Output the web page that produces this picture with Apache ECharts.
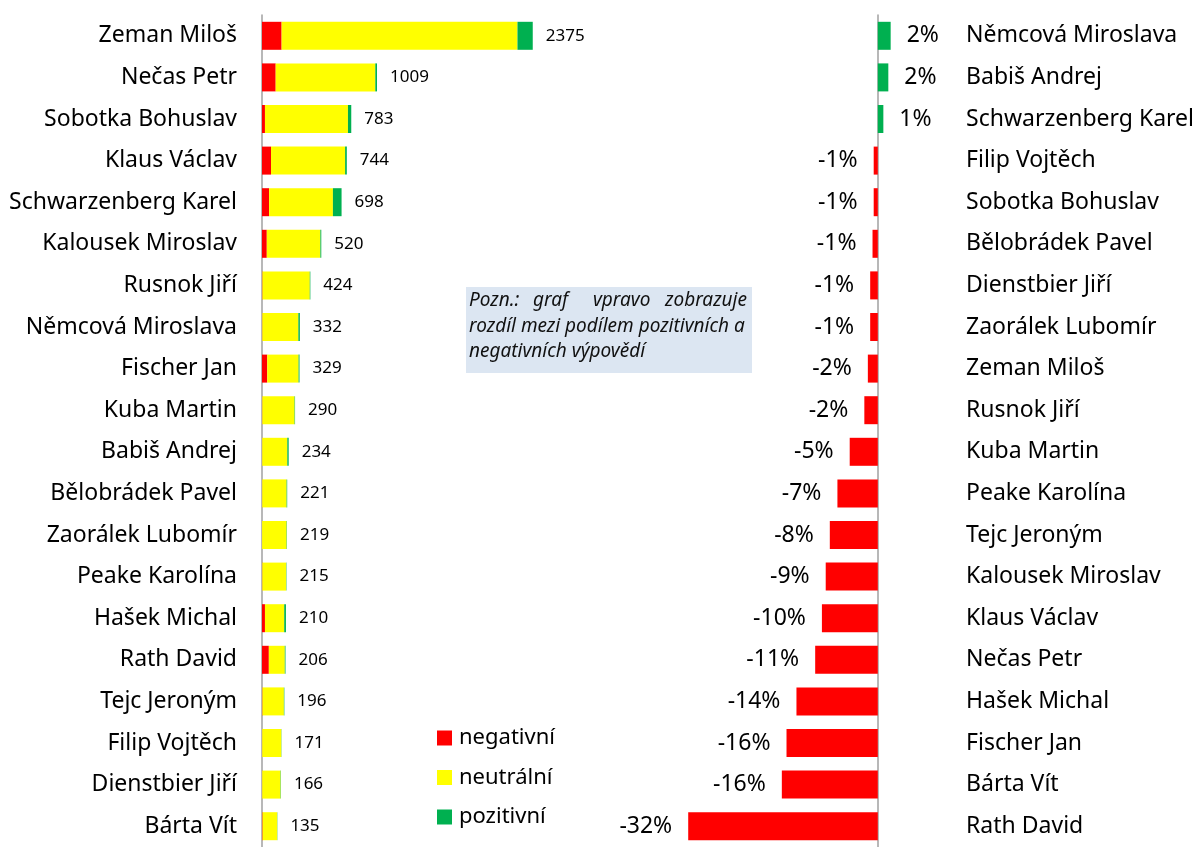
<!DOCTYPE html>
<html>
<head>
<meta charset="utf-8">
<script src="https://cdn.jsdelivr.net/npm/echarts@6/dist/echarts.min.js"></script>
<style>
  html, body { margin: 0; padding: 0; background: #fff; }
  #main { width: 1197px; height: 847px; }
</style>
</head>
<body>
<div id="main"></div>
<script>
// levý graf - počet výpovědí
var names = ["Zeman Miloš", "Nečas Petr", "Sobotka Bohuslav", "Klaus Václav", "Schwarzenberg Karel",
  "Kalousek Miroslav", "Rusnok Jiří", "Němcová Miroslava", "Fischer Jan", "Kuba Martin",
  "Babiš Andrej", "Bělobrádek Pavel", "Zaorálek Lubomír", "Peake Karolína", "Hašek Michal",
  "Rath David", "Tejc Jeroným", "Filip Vojtěch", "Dienstbier Jiří", "Bárta Vít"];
var negative = [172, 120, 26, 79, 62, 42, 4, 3, 46, 3, 2, 2, 1, 3, 26, 60, 4, 2, 2, 5];
var neutral = [2069, 874, 728, 650, 560, 470, 415, 316, 275, 283, 220, 214, 215, 209, 169, 140, 188, 167, 161, 128];
var positive = [134, 15, 29, 15, 76, 8, 5, 13, 8, 4, 12, 5, 3, 3, 15, 6, 4, 2, 3, 2];
var totals = [2375, 1009, 783, 744, 698, 520, 424, 332, 329, 290, 234, 221, 219, 215, 210, 206, 196, 171, 166, 135];

// pravý graf - rozdíl pozitivní minus negativní (%)
var diffNames = ["Němcová Miroslava", "Babiš Andrej", "Schwarzenberg Karel", "Filip Vojtěch", "Sobotka Bohuslav",
  "Bělobrádek Pavel", "Dienstbier Jiří", "Zaorálek Lubomír", "Zeman Miloš", "Rusnok Jiří",
  "Kuba Martin", "Peake Karolína", "Tejc Jeroným", "Kalousek Miroslav", "Klaus Václav",
  "Nečas Petr", "Hašek Michal", "Fischer Jan", "Bárta Vít", "Rath David"];
var diffValues = [2.2, 1.8, 0.95, -0.7, -0.7, -0.9, -1.3, -1.3, -1.7, -2.3,
  -4.8, -6.9, -8.2, -8.9, -9.55, -10.7, -13.9, -15.6, -16.4, -32.4];

var RED = '#ff0000', YELLOW = '#ffff00', GREEN = '#00b050';
var FONT = 'Noto Sans';
var axisGray = '#a0a0a0';
var noteFont = 'italic 19px "Noto Sans"';

var chart = echarts.init(document.getElementById('main'));

chart.setOption({
  animation: false,
  textStyle: { fontFamily: FONT, color: '#000' },
  grid: [
    { left: 262, top: 15, width: 342, height: 834 },
    { left: 673, top: 15, width: 240, height: 834 }
  ],
  xAxis: [
    { gridIndex: 0, type: 'value', min: 0, max: 3000, show: false },
    { gridIndex: 1, type: 'value', min: -35, max: 5, show: false }
  ],
  yAxis: [
    {
      gridIndex: 0, type: 'category', data: names, inverse: true,
      axisLine: { lineStyle: { color: axisGray, width: 1.5 } },
      axisTick: { length: 7, lineStyle: { color: axisGray, width: 1.5 } },
      axisLabel: { fontSize: 23, color: '#000', margin: 25, fontFamily: FONT }
    },
    {
      gridIndex: 1, type: 'category', data: diffNames, inverse: true, position: 'right',
      axisLine: { onZero: true, lineStyle: { color: axisGray, width: 1.5 } },
      axisTick: { inside: true, length: 8, lineStyle: { color: axisGray, width: 1.5 } },
      axisLabel: { fontSize: 23, color: '#000', margin: 59, fontFamily: FONT }
    }
  ],
  legend: {
    data: ['negativní', 'neutrální', 'pozitivní'],
    orient: 'vertical', left: 432, top: 721,
    icon: 'rect', itemWidth: 15, itemHeight: 15, itemGap: 15.5,
    textStyle: { fontSize: 22, lineHeight: 24, color: '#000', fontFamily: FONT, padding: [0, 0, 0, 2] }
  },
  series: [
    {
      name: 'negativní', type: 'bar', stack: 'left', xAxisIndex: 0, yAxisIndex: 0,
      barWidth: 28, itemStyle: { color: RED }, data: negative
    },
    {
      name: 'neutrální', type: 'bar', stack: 'left', xAxisIndex: 0, yAxisIndex: 0,
      barWidth: 28, itemStyle: { color: YELLOW }, data: neutral
    },
    {
      name: 'pozitivní', type: 'bar', stack: 'left', xAxisIndex: 0, yAxisIndex: 0,
      barWidth: 28, itemStyle: { color: GREEN }, data: positive,
      label: {
        show: true, position: 'right', distance: 13, fontSize: 17, color: '#000', fontFamily: FONT,
        formatter: function (p) { return totals[p.dataIndex]; }
      }
    },
    {
      name: 'rozdíl', type: 'bar', xAxisIndex: 1, yAxisIndex: 1, barWidth: 28,
      data: diffValues.map(function (v) {
        return {
          value: v,
          itemStyle: { color: v >= 0 ? GREEN : RED },
          label: { position: v >= 0 ? 'right' : 'left' }
        };
      }),
      label: {
        show: true, distance: 16, fontSize: 23, color: '#000', fontFamily: FONT,
        formatter: function (p) { return Math.round(p.value) + '%'; }
      }
    }
  ],
  graphic: [
    { type: 'rect', left: 466, top: 287, shape: { width: 286, height: 86 }, style: { fill: '#dce6f2' } },
    { type: 'text', left: 469, top: 291, style: { text: 'Pozn.:', font: noteFont, fill: '#111' } },
    { type: 'text', left: 533, top: 291, style: { text: 'graf', font: noteFont, fill: '#111' } },
    { type: 'text', left: 593, top: 291, style: { text: 'vpravo', font: noteFont, fill: '#111' } },
    { type: 'text', right: 1197 - 747, top: 291, style: { text: 'zobrazuje', font: noteFont, fill: '#111' } },
    { type: 'text', left: 469, top: 317, style: { text: 'rozdíl mezi podílem pozitivních a', font: noteFont, fill: '#111' } },
    { type: 'text', left: 469, top: 342, style: { text: 'negativních výpovědí', font: noteFont, fill: '#111' } }
  ]
});
</script>
</body>
</html>
